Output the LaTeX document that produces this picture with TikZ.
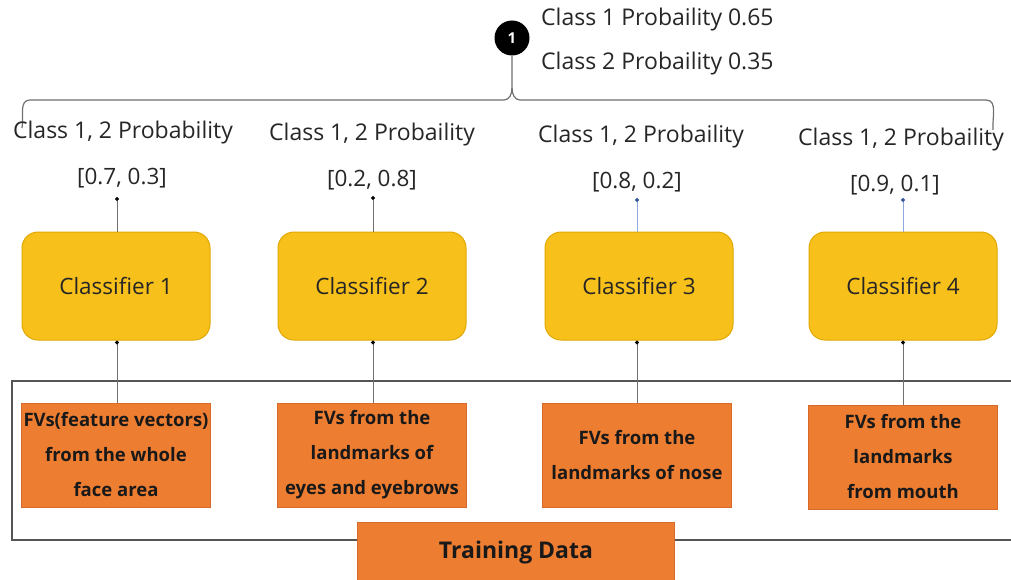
\documentclass[tikz,border=0pt]{standalone}
\usepackage{fontspec}
\setmainfont{Open Sans}
\usetikzlibrary{arrows.meta}
\definecolor{clsfill}{HTML}{F8C01A}
\definecolor{clsdraw}{HTML}{E0A800}
\definecolor{fvfill}{HTML}{ED7D31}
\definecolor{fvdraw}{HTML}{D9692A}
\definecolor{lineg}{HTML}{707070}
\definecolor{lineb}{HTML}{8FAADC}
\definecolor{tipb}{HTML}{2F5597}
\definecolor{frameg}{HTML}{555555}
\tikzset{
  clsbox/.style={draw=clsdraw, line width=1pt, fill=clsfill, rounded corners=16pt,
    minimum width=188pt, minimum height=108pt, font=\fontsize{22.5}{26}\selectfont, text=black!85},
  fvbox/.style={draw=fvdraw, line width=1pt, fill=fvfill, minimum width=189pt, minimum height=104pt,
    align=center, font=\bfseries\fontsize{18.5}{35}\selectfont, text=black!90, inner sep=0pt},
  problabel/.style={font=\fontsize{23}{27}\selectfont, text=black!85, inner sep=1pt},
  vallabel/.style={font=\fontsize{22.5}{26}\selectfont, text=black!85, inner sep=1pt},
  uparrow/.style={draw=lineg, line width=1pt, -{Circle[length=4pt, color=black]}},
  uparrowb/.style={draw=lineb, line width=1pt, -{Circle[length=4pt, color=tipb]}},
}
\begin{document}
\begin{tikzpicture}[x=1pt, y=-1pt]
\useasboundingbox (0,0) rectangle (1011,580);
\fill[white] (0,0) rectangle (1011,580);

% top result
\node[circle, fill=black, minimum size=35pt, inner sep=0pt, text=white, font=\bfseries\fontsize{15}{17}\selectfont] (res) at (512,38) {1};
\node[problabel, anchor=west] (r1) at (540,20) {Class 1 Probaility 0.65};
\node[problabel, anchor=west] (r2) at (540,64) {Class 2 Probaility 0.35};

% brace
\coordinate (bl) at (22,128);
\coordinate (br) at (993,130);
\draw[lineg, line width=1.2pt] (res.south) -- (512,88) to[out=-90,in=0] (504,100) -- (30,100) to[out=180,in=80] (bl);
\draw[lineg, line width=1.2pt] (512,88) to[out=-90,in=180] (520,100) -- (986,100) to[out=0,in=95] (br);

% probability labels
\node[problabel] (p1) at (123,133) {Class 1, 2 Probability};
\node[vallabel] (v1) at (122,178) {[0.7, 0.3]};
\node[problabel] (p2) at (372,135) {Class 1, 2 Probaility};
\node[vallabel] (v2) at (372,180) {[0.2, 0.8]};
\node[problabel] (p3) at (641,137) {Class 1, 2 Probaility};
\node[vallabel] (v3) at (637,182) {[0.8, 0.2]};
\node[problabel] (p4) at (901,140) {Class 1, 2 Probaility};
\node[vallabel] (v4) at (895,185) {[0.9, 0.1]};

% classifiers
\node[clsbox] (c1) at (116,286) {Classifier 1};
\node[clsbox] (c2) at (372,286) {Classifier 2};
\node[clsbox] (c3) at (639,286) {Classifier 3};
\node[clsbox] (c4) at (903,286) {Classifier 4};

\coordinate (t1) at (117,197);
\coordinate (t2) at (373,196);
\coordinate (t3) at (637,198);
\coordinate (t4) at (903,198);
\draw[uparrow] (c1.north -| t1) -- (t1);
\draw[uparrow] (c2.north -| t2) -- (t2);
\draw[uparrowb] (c3.north -| t3) -- (t3);
\draw[uparrowb] (c4.north -| t4) -- (t4);

% training frame
\draw[frameg, line width=1.6pt] (1015,381) -- (12,381) -- (12,540) -- (1015,540);

% feature vector boxes
\node[fvbox] (f1) at (116,455) {FVs(feature vectors)\\from the whole\\face area};
\node[fvbox] (f2) at (372,455) {FVs from the\\landmarks of\\eyes and eyebrows};
\node[fvbox] (f3) at (637,455) {FVs from the\\landmarks of nose};
\node[fvbox] (f4) at (903,457) {FVs from the\\landmarks\\from mouth};

\draw[uparrow] (f1.north -| t1) -- (c1.south -| t1);
\draw[uparrow] (f2.north -| t2) -- (c2.south -| t2);
\draw[uparrow] (f3.north -| t3) -- (c3.south -| t3);
\draw[uparrow] (f4.north -| t4) -- (c4.south -| t4);

% training data
\begin{scope}
\clip (0,0) rectangle (1011,580);
\node[draw=fvdraw, line width=1pt, fill=fvfill, minimum width=317pt, minimum height=70pt, anchor=north, inner sep=0pt] (td) at (516,522) {};
\end{scope}
\node[font=\bfseries\fontsize{23}{26}\selectfont, text=black!90] (tdl) at (516,553) {Training Data};
\end{tikzpicture}
\end{document}
